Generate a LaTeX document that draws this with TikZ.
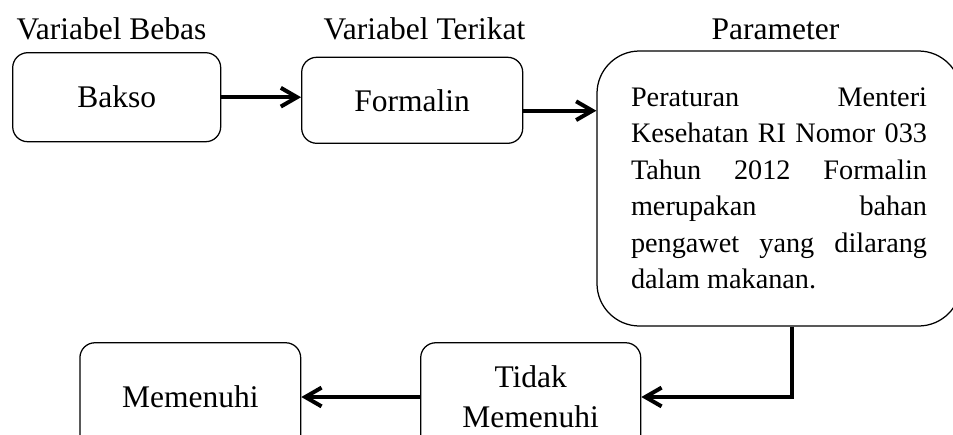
\documentclass[tikz,border=0pt]{standalone}
\usepackage{fontspec}
\setmainfont{Liberation Serif}
\usetikzlibrary{arrows.meta}
\tikzset{
    box/.style={draw,line width=0.5pt,rounded corners=6pt,inner sep=0pt,
        font=\fontsize{12.6}{16}\selectfont},
    arr/.style={line width=1.6pt,-{Straight Barb[length=6.5pt,width=7.5pt]}},
    title/.style={anchor=base,inner sep=0pt,font=\fontsize{12.6}{16}\selectfont}
}
\begin{document}
\begin{tikzpicture}[x=0.4pt,y=-0.4pt]
        \useasboundingbox (0,0) rectangle (953,434);
        \clip (0,0) rectangle (953,434);
        \node[title] (TBebas) at (111.5,39) {Variabel Bebas};
        \node[title] (TTerikat) at (424.5,39) {Variabel Terikat};
        \node[title] (TParam) at (775.5,39) {Parameter};
        \begin{scope}[every node/.style={box}]
            \node[minimum width=83.2pt,minimum height=35.6pt] (Bakso) at (116.7,97.2) {Bakso};
            \node[minimum width=88.4pt,minimum height=34.4pt] (Formalin) at (412.2,100.3) {Formalin};
            \node[minimum width=145.6pt,minimum height=110pt,rounded corners=17pt,
                text width=118.4pt,align=justify,
                font=\fontsize{11.3}{14.6}\selectfont] (Param) at (779,188.5)
                {Peraturan Menteri\linebreak Kesehatan RI Nomor 033\linebreak
                 Tahun 2012 Formalin\linebreak merupakan bahan\linebreak
                 pengawet yang dilarang\linebreak dalam makanan.};
            \node[minimum width=88pt,minimum height=43.4pt,align=center] (Tidak) at (530.7,397) {Tidak\\Memenuhi};
            \node[minimum width=88.3pt,minimum height=43.4pt] (Memenuhi) at (190.3,397) {Memenuhi};
        \end{scope}
        \draw [arr] (Bakso.east) -- (Bakso.east -| Formalin.west);
        \draw [arr] ([yshift=-4.16pt]Formalin.east) -- ([yshift=-4.16pt]Formalin.east -| Param.west);
        \draw [arr] ([xshift=5.2pt]Param.south) |- (Tidak.east);
        \draw [arr] (Tidak.west) -- (Tidak.west -| Memenuhi.east);
    \end{tikzpicture}
\end{document}
